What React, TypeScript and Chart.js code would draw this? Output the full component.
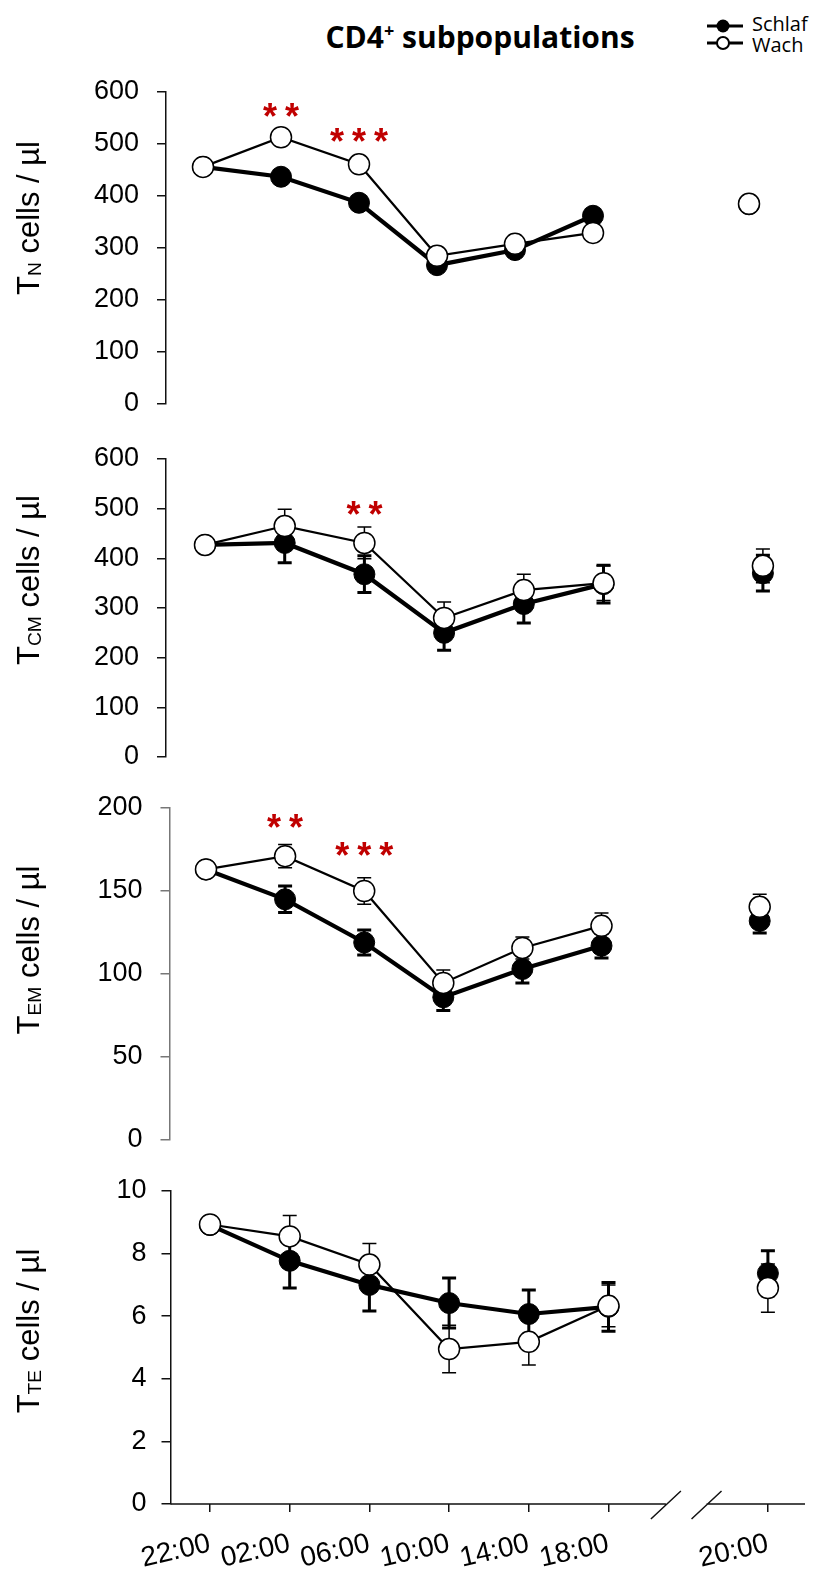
import React, { useEffect, useRef } from 'react';
import { Chart, registerables } from 'chart.js';

Chart.register(...registerables);

// ---------- data ----------
const timeLabels = ['22:00', '02:00', '06:00', '10:00', '14:00', '18:00', '', '20:00'];

// T_N
const tnSchlaf = [456, 437, 387, 267, 296, 362, null, 384];
const tnWach = [456, 513, 461, 285, 308, 329, null, 385];
const tnSchlafSem = [null, null, null, null, null, null, null, null];
const tnWachSem = [null, null, null, null, null, null, null, null];
const tnTicks = [0, 100, 200, 300, 400, 500, 600];
const tnStars = [
  { slot: 1, text: '**', value: 569 },
  { slot: 2, text: '***', value: 521 },
];

// T_CM
const tcmSchlaf = [427, 431, 368, 250, 308, 348, null, 370];
const tcmWach = [427, 465, 431, 280, 336, 350, null, 385];
const tcmSchlafSem = [null, 40, 37, 35, 38, 38, null, 36];
const tcmWachSem = [null, 34, 32, 32, 32, 35, null, 34];
const tcmTicks = [0, 100, 200, 300, 400, 500, 600];
const tcmStars = [{ slot: 2, text: '**', value: 505 }];

// T_EM
const temSchlaf = [163, 145, 119, 86, 103, 117, null, 132];
const temWach = [163, 171, 150, 94.6, 115.7, 129, null, 140.5];
const temSchlafSem = [null, 8, 7.5, 8, 8.4, 7.4, null, 7.3];
const temWachSem = [null, 7, 8, 7.8, 6.6, 7.7, null, 7.5];
const temTicks = [0, 50, 100, 150, 200];
const temStars = [
  { slot: 1, text: '**', value: 193 },
  { slot: 2, text: '***', value: 176 },
];

// T_TE
const tteSchlaf = [8.91, 7.77, 7.0, 6.42, 6.07, 6.3, null, 7.37];
const tteWach = [8.93, 8.55, 7.65, 4.95, 5.18, 6.33, null, 6.9];
const tteSchlafSem = [null, 0.87, 0.83, 0.8, 0.77, 0.78, null, 0.72];
const tteWachSem = [null, 0.67, 0.67, 0.76, 0.74, 0.67, null, 0.77];
const tteTicks = [0, 2, 4, 6, 8, 10];
const tteStars: { slot: number; text: string; value: number }[] = [];

// ---------- styling / layout ----------
const FONT = "'Liberation Sans', Arial, sans-serif";
const PAD_TOP = 24;
const STAR_SIZE = 36;
const STAR_GAP = 8;

type PanelCfg = {
  schlaf: (number | null)[];
  wach: (number | null)[];
  schlafSem: (number | null)[];
  wachSem: (number | null)[];
  ticks: number[];
  stars: { slot: number; text: string; value: number }[];
  top: number;
  bottom: number;
  axisX: number;
  right: number;
  x0: number;
  step: number;
  showX: boolean;
  axisColor: string;
  labelPad: number;
};

const panels: PanelCfg[] = [
  { schlaf: tnSchlaf, wach: tnWach, schlafSem: tnSchlafSem, wachSem: tnWachSem, ticks: tnTicks, stars: tnStars,
    top: 92, bottom: 404, axisX: 166, right: 805, x0: 203, step: 78, showX: false, axisColor: '#111', labelPad: 18 },
  { schlaf: tcmSchlaf, wach: tcmWach, schlafSem: tcmSchlafSem, wachSem: tcmWachSem, ticks: tcmTicks, stars: tcmStars,
    top: 459, bottom: 757, axisX: 166, right: 805, x0: 205, step: 79.7, showX: false, axisColor: '#111', labelPad: 18 },
  { schlaf: temSchlaf, wach: temWach, schlafSem: temSchlafSem, wachSem: temWachSem, ticks: temTicks, stars: temStars,
    top: 808, bottom: 1140, axisX: 169.5, right: 805, x0: 206, step: 79.1, showX: false, axisColor: '#777', labelPad: 18 },
  { schlaf: tteSchlaf, wach: tteWach, schlafSem: tteSchlafSem, wachSem: tteWachSem, ticks: tteTicks, stars: tteStars,
    top: 1191, bottom: 1504, axisX: 170.5, right: 805, x0: 210, step: 79.7, showX: true, axisColor: '#111', labelPad: 15 },
];

const X_AXIS_H = 65;

function Panel({ cfg }: { cfg: PanelCfg }) {
  const ref = useRef<HTMLCanvasElement>(null);
  const padBottom = cfg.showX ? 0 : 18;
  const height = cfg.bottom - cfg.top + PAD_TOP + padBottom + (cfg.showX ? X_AXIS_H : 0);
  const canvasTop = cfg.top - PAD_TOP;

  useEffect(() => {
    const xMin = -(cfg.x0 - cfg.axisX) / cfg.step;
    const xMax = xMin + (cfg.right - cfg.axisX) / cfg.step;
    const toPts = (arr: (number | null)[]) => arr.map((v, i) => ({ x: i, y: v }));

    const errPlugin = {
      id: 'errBars',
      beforeDatasetsDraw(chart: any) {
        const ctx = chart.ctx;
        const xs = chart.scales.x;
        const ys = chart.scales.y;
        const series = [
          { vals: cfg.schlaf, sem: cfg.schlafSem, w: 3 },
          { vals: cfg.wach, sem: cfg.wachSem, w: 1.5 },
        ];
        ctx.save();
        ctx.strokeStyle = '#000';
        series.forEach((s) => {
          ctx.lineWidth = s.w;
          s.vals.forEach((v, i) => {
            const e = s.sem[i];
            if (v == null || e == null) return;
            const x = xs.getPixelForValue(i);
            const y1 = ys.getPixelForValue(v + e);
            const y2 = ys.getPixelForValue(v - e);
            ctx.beginPath();
            ctx.moveTo(x, y1);
            ctx.lineTo(x, y2);
            ctx.moveTo(x - 7, y1);
            ctx.lineTo(x + 7, y1);
            ctx.moveTo(x - 7, y2);
            ctx.lineTo(x + 7, y2);
            ctx.stroke();
          });
        });
        ctx.restore();
      },
    };

    const starPlugin = {
      id: 'stars',
      afterDatasetsDraw(chart: any) {
        const ctx = chart.ctx;
        const xs = chart.scales.x;
        const ys = chart.scales.y;
        ctx.save();
        ctx.fillStyle = '#c00000';
        ctx.font = `bold ${STAR_SIZE}px ${FONT}`;
        (ctx as any).letterSpacing = `${STAR_GAP}px`;
        ctx.textAlign = 'center';
        ctx.textBaseline = 'alphabetic';
        cfg.stars.forEach((s) => {
          ctx.fillText(
            s.text,
            xs.getPixelForValue(s.slot) + STAR_GAP / 2,
            ys.getPixelForValue(s.value) + 0.57 * STAR_SIZE
          );
        });
        ctx.restore();
      },
    };

    const breakPlugin = {
      id: 'axisBreak',
      afterDraw(chart: any) {
        if (!cfg.showX) return;
        const ctx = chart.ctx;
        const xs = chart.scales.x;
        const a = chart.chartArea;
        const y = a.bottom;
        const b1 = xs.getPixelForValue(5.72);
        const b2 = xs.getPixelForValue(6.23);
        ctx.save();
        ctx.strokeStyle = cfg.axisColor;
        ctx.lineWidth = 1.5;
        ctx.beginPath();
        ctx.moveTo(a.left, y);
        ctx.lineTo(b1, y);
        ctx.moveTo(b2, y);
        ctx.lineTo(a.right, y);
        ctx.moveTo(b1 - 15, y + 15);
        ctx.lineTo(b1 + 15, y - 13);
        ctx.moveTo(b2 - 15, y + 15);
        ctx.lineTo(b2 + 15, y - 13);
        ctx.stroke();
        ctx.restore();
      },
    };

    const chart = new Chart(ref.current as HTMLCanvasElement, {
      type: 'line',
      data: {
        datasets: [
          {
            label: 'Wach',
            data: toPts(cfg.wach) as any,
            borderColor: '#000',
            borderWidth: 2.2,
            pointRadius: 10.5,
            pointBackgroundColor: '#fff',
            pointBorderColor: '#000',
            pointBorderWidth: 1.5,
            spanGaps: false,
            clip: false as any,
          },
          {
            label: 'Schlaf',
            data: toPts(cfg.schlaf) as any,
            borderColor: '#000',
            borderWidth: 4.2,
            pointRadius: 10.5,
            pointBackgroundColor: '#000',
            pointBorderColor: '#000',
            pointBorderWidth: 1,
            spanGaps: false,
            clip: false as any,
          },
        ],
      },
      options: {
        animation: false,
        responsive: false,
        maintainAspectRatio: false,
        events: [],
        layout: { autoPadding: false, padding: { top: PAD_TOP, bottom: padBottom, left: 0, right: 820 - cfg.right } },
        plugins: { legend: { display: false }, tooltip: { enabled: false } },
        scales: {
          x: {
            type: 'linear',
            min: xMin,
            max: xMax,
            display: cfg.showX,
            afterBuildTicks: (s: any) => {
              s.ticks = timeLabels.map((_, i) => ({ value: i }));
            },
            afterFit: (s: any) => {
              s.height = cfg.showX ? X_AXIS_H : 0;
              s.paddingLeft = 0;
              s.paddingRight = 0;
            },
            ticks: {
              autoSkip: false,
              minRotation: 13,
              maxRotation: 13,
              padding: 15,
              color: '#000',
              font: { family: FONT, size: 28 },
              callback: (v: any) => timeLabels[v] ?? '',
            },
            grid: {
              drawOnChartArea: false,
              tickLength: 8,
              lineWidth: 1.5,
              color: (c: any) => (c.tick && timeLabels[c.tick.value] ? cfg.axisColor : 'rgba(0,0,0,0)'),
            },
            border: { display: false },
          },
          y: {
            type: 'linear',
            min: cfg.ticks[0],
            max: cfg.ticks[cfg.ticks.length - 1],
            afterBuildTicks: (s: any) => {
              s.ticks = cfg.ticks.map((v) => ({ value: v }));
            },
            afterFit: (s: any) => {
              s.width = cfg.axisX;
              s.paddingTop = 0;
              s.paddingBottom = 0;
            },
            ticks: {
              padding: cfg.labelPad,
              color: '#000',
              font: { family: FONT, size: 27 },
            },
            grid: { drawOnChartArea: false, tickLength: 9, lineWidth: 1.5, color: cfg.axisColor },
            border: { display: true, color: cfg.axisColor, width: 1.5 },
          },
        },
      },
      plugins: [errPlugin, starPlugin, breakPlugin],
    });
    return () => chart.destroy();
  }, []);

  return (
    <canvas
      ref={ref}
      width={820}
      height={height}
      style={{ position: 'absolute', left: 0, top: canvasTop, width: 820, height }}
    />
  );
}

const yTitles = [
  { main: 'T', sub: 'N', cy: 218 },
  { main: 'T', sub: 'CM', cy: 580 },
  { main: 'T', sub: 'EM', cy: 950 },
  { main: 'T', sub: 'TE', cy: 1331 },
];

export default function App() {
  return (
    <div style={{ position: 'absolute', left: 0, top: 0, width: 820, height: 1569, background: '#fff', overflow: 'hidden' }}>
      {panels.map((p, i) => (
        <Panel key={i} cfg={p} />
      ))}
      {yTitles.map((t, i) => (
        <div
          key={i}
          style={{
            position: 'absolute',
            left: 30,
            top: t.cy,
            transform: 'translate(-50%, -50%) rotate(-90deg)',
            whiteSpace: 'nowrap',
            fontFamily: FONT,
            fontSize: 31,
            lineHeight: '31px',
            color: '#000',
          }}
        >
          {t.main}
          <span style={{ fontSize: '0.62em', position: 'relative', top: '0.12em' }}>{t.sub}</span>
          {' cells / µl'}
        </div>
      ))}
      <div
        style={{
          position: 'absolute',
          left: 280,
          top: 22,
          width: 400,
          textAlign: 'center',
          fontFamily: "'Open Sans', sans-serif",
          fontWeight: 700,
          fontSize: 30,
          lineHeight: '30px',
          color: '#000',
          whiteSpace: 'nowrap',
        }}
      >
        CD4<sup style={{ fontSize: '0.6em', lineHeight: 0 }}>+</sup> subpopulations
      </div>
      <svg style={{ position: 'absolute', left: 703, top: 14 }} width={44} height={40}>
        <line x1={4} y1={12} x2={40} y2={12} stroke="#000" strokeWidth={3} />
        <circle cx={20} cy={12} r={6.5} fill="#000" />
        <line x1={4} y1={29} x2={40} y2={29} stroke="#000" strokeWidth={3} />
        <circle cx={20} cy={29} r={6} fill="#fff" stroke="#000" strokeWidth={2} />
      </svg>
      <div style={{ position: 'absolute', left: 752, top: 14, fontFamily: "'Open Sans', sans-serif", fontSize: 20, lineHeight: '20px', color: '#000' }}>
        Schlaf
      </div>
      <div style={{ position: 'absolute', left: 752, top: 35, fontFamily: "'Open Sans', sans-serif", fontSize: 20, lineHeight: '20px', color: '#000' }}>
        Wach
      </div>
    </div>
  );
}
